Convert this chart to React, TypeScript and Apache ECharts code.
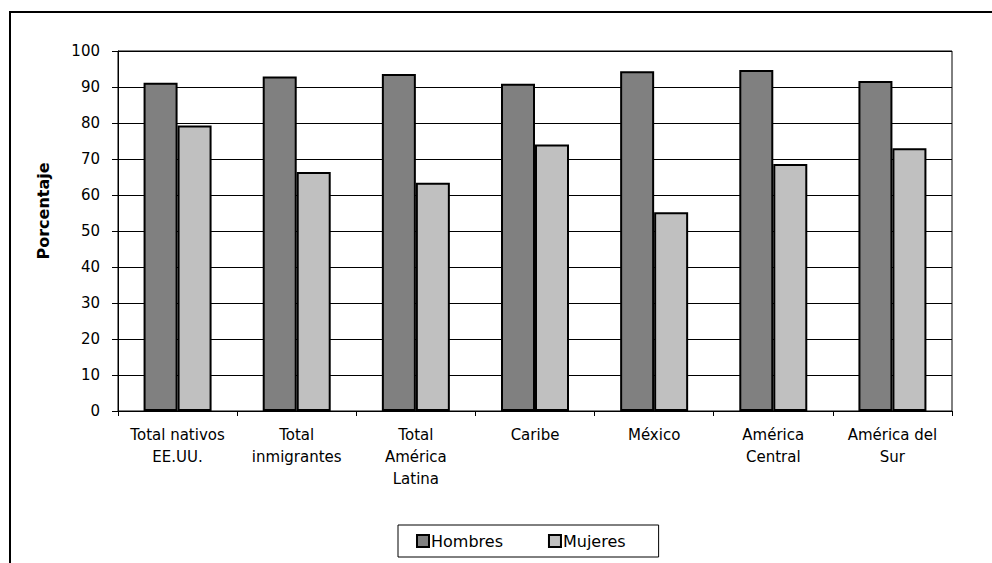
import React, { useEffect, useRef } from "react";
import * as echarts from "echarts";

const categories = [
  "Total nativos\nEE.UU.",
  "Total\ninmigrantes",
  "Total\nAmérica\nLatina",
  "Caribe",
  "México",
  "América\nCentral",
  "América del\nSur",
];
const hombres = [91.2, 92.9, 93.6, 90.9, 94.4, 94.7, 91.7];
const mujeres = [79.3, 66.4, 63.4, 74.0, 55.2, 68.6, 73.0];
const seriesNames = ["Hombres", "Mujeres"];
const yTicks = { min: 0, max: 100, interval: 10 };
const yTitle = "Porcentaje";

const FONT = "DejaVu Sans";

export default function App() {
  const ref = useRef<HTMLDivElement>(null);
  useEffect(() => {
    if (!ref.current) return;
    const chart = echarts.init(ref.current, undefined, { renderer: "svg" });
    chart.setOption({
      animation: false,
      backgroundColor: "#ffffff",
      textStyle: { fontFamily: FONT, color: "#000" },
      graphic: [
        {
          type: "rect",
          shape: { x: 10, y: 12, width: 1000, height: 600 },
          style: { fill: "none", stroke: "#000", lineWidth: 2 },
          silent: true,
        },
      ],
      grid: {
        left: 118,
        right: 40,
        top: 51,
        bottom: 152,
        show: true,
        borderColor: "#000",
        borderWidth: 1,
        containLabel: false,
      },
      legend: {
        data: seriesNames,
        left: 398,
        top: 525,
        orient: "horizontal",
        backgroundColor: "#fff",
        borderColor: "#000",
        borderWidth: 1,
        padding: [8, 33, 8, 18],
        itemGap: 45,
        itemWidth: 12,
        itemHeight: 12,
        icon: "rect",
        textStyle: { fontFamily: FONT, fontSize: 16, color: "#000", padding: [0, 0, 0, -3] },
      },
      xAxis: {
        type: "category",
        data: categories,
        boundaryGap: true,
        axisLine: { show: true, lineStyle: { color: "#000", width: 1 } },
        axisTick: { show: true, alignWithLabel: false, length: 5, lineStyle: { color: "#000" } },
        axisLabel: {
          interval: 0,
          margin: 13,
          fontFamily: FONT,
          fontSize: 15,
          lineHeight: 22,
          color: "#000",
          align: "center",
        },
        splitLine: { show: false },
      },
      yAxis: {
        type: "value",
        min: yTicks.min,
        max: yTicks.max,
        interval: yTicks.interval,
        name: yTitle,
        nameLocation: "middle",
        nameRotate: 90,
        nameGap: 67,
        nameTextStyle: {
          fontFamily: FONT,
          fontWeight: "bold",
          fontSize: 16,
          color: "#000",
          padding: [0, 0, 0, 40],
        },
        axisLine: { show: true, lineStyle: { color: "#000", width: 1 } },
        axisTick: { show: true, length: 6, lineStyle: { color: "#000" } },
        axisLabel: { margin: 18, fontFamily: FONT, fontSize: 15, color: "#000" },
        splitLine: { show: true, lineStyle: { color: "#000", width: 1 } },
      },
      series: [
        {
          name: seriesNames[0],
          type: "bar",
          data: hombres,
          barWidth: 34,
          barGap: "0%",
          itemStyle: { color: "#808080", borderColor: "#000", borderWidth: 2 },
        },
        {
          name: seriesNames[1],
          type: "bar",
          data: mujeres,
          barWidth: 34,
          barGap: "0%",
          itemStyle: { color: "#C0C0C0", borderColor: "#000", borderWidth: 2 },
        },
      ],
    });
    return () => chart.dispose();
  }, []);
  return (
    <div
      ref={ref}
      style={{ position: "fixed", left: 0, top: 0, width: 992, height: 563 }}
    />
  );
}
